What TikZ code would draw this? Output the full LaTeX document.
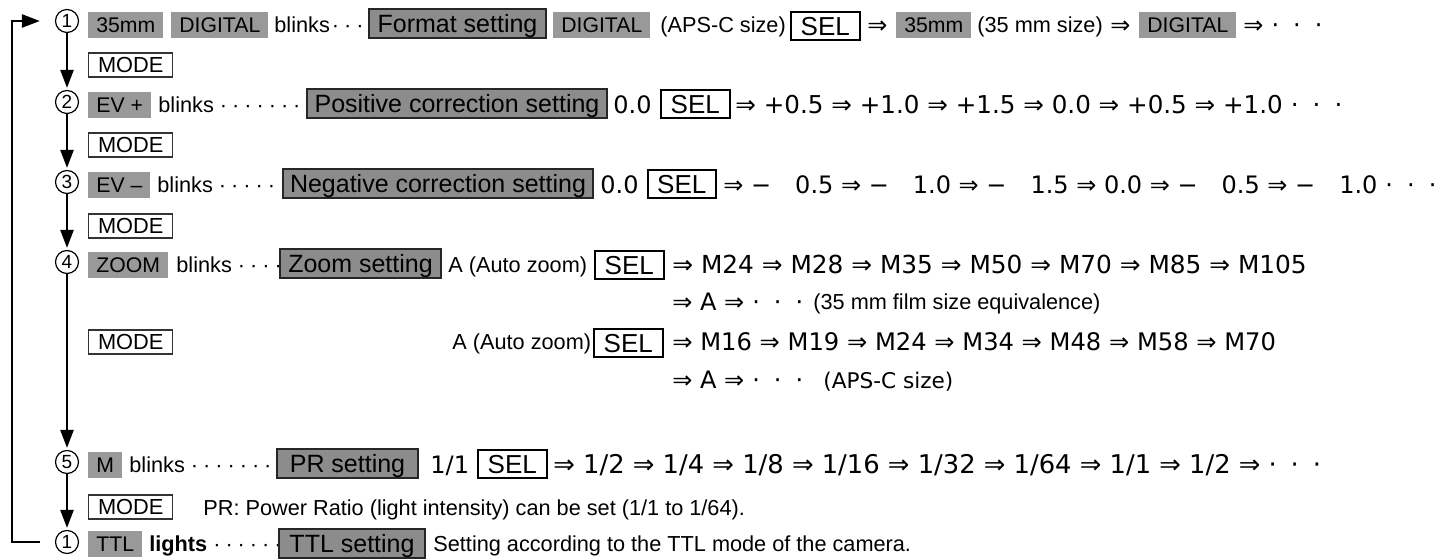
\documentclass[tikz,border=0pt]{standalone}
\usepackage{fontspec}
\setmainfont{Liberation Sans}
\newfontfamily\numfont{DejaVu Sans}
\usetikzlibrary{arrows.meta}
\tikzset{txt/.style={anchor=west, inner sep=0pt, font=\fontsize{10.85}{12}\selectfont, text height=7.8pt, text depth=0pt}}
\tikzset{num/.style={anchor=west, inner sep=0pt, font=\numfont\fontsize{12}{14}\selectfont, text height=8.7pt, text depth=0pt}}
\tikzset{graybox/.style={anchor=west, fill=black!40, inner xsep=4pt, inner ysep=0pt, minimum height=13pt, font=\fontsize{10.6}{12}\selectfont, text height=7.6pt, text depth=0pt}}
\tikzset{setbox/.style={anchor=west, draw=black!85, line width=1pt, fill=black!45, inner xsep=2pt, inner ysep=0pt, minimum height=14.5pt, font=\fontsize{12.5}{14}\selectfont, text height=9pt, text depth=0pt}}
\tikzset{selbox/.style={anchor=west, draw, line width=0.8pt, inner sep=0pt, minimum width=34.5pt, minimum height=14pt, font=\fontsize{13}{14}\selectfont, text height=9.3pt, text depth=0pt}}
\tikzset{modebox/.style={anchor=west, draw=black!80, line width=0.7pt, inner sep=0pt, minimum width=42pt, minimum height=12pt, font=\fontsize{10.9}{12}\selectfont, text height=7.8pt, text depth=0pt}}
\tikzset{stepno/.style={circle, draw, line width=0.6pt, minimum size=11.5pt, inner sep=0pt, font=\fontsize{9.5}{10}\selectfont}}
\tikzset{flow/.style={line width=1.2pt, -{Triangle[length=9pt,width=6.5pt]}, shorten >=1pt}}
\newcommand{\dotgap}{\kern2.5pt}
\newcommand{\cycdots}{\hspace{4pt}·\hspace{7pt}·\hspace{7pt}·}

\begin{document}
\begin{tikzpicture}[x=0.5pt, y=-0.5pt]
\useasboundingbox (0,0) rectangle (1446,560);

\node[stepno] (c1) at (67,21) {1};
\node[graybox] (r1a) at (88,25) {35mm};
\node[graybox] (r1b) at (171,25) {DIGITAL};
\node[txt] (r1c) at (274,25) {blinks\kern1pt·\dotgap·\dotgap·};
\node[setbox, minimum width=88.5pt] (r1set) at (368,24) {Format setting};
\node[graybox] (r1d) at (553,25) {DIGITAL};
\node[txt] (r1e) at (660,25) {(APS-C size)};
\node[selbox] (r1sel) at (790,26) {SEL};
\node[num] (r1f) at (867,25) {⇒};
\node[graybox] (r1g) at (896,25) {35mm};
\node[txt] (r1h) at (977,25) {(35 mm size)};
\node[num] (r1i) at (1110,25) {⇒};
\node[graybox] (r1j) at (1139,25) {DIGITAL};
\node[num] (r1k) at (1243,25) {⇒\cycdots};

\node[modebox] (mode1) at (88,65) {MODE};

\node[stepno] (c2) at (67,102) {2};
\node[graybox] (r2a) at (88,105) {EV +};
\node[txt] (r2b) at (158,105) {blinks ·\dotgap·\dotgap·\dotgap·\dotgap·\dotgap·\dotgap·\dotgap·};
\node[setbox, minimum width=150pt] (r2set) at (306,104) {Positive correction setting};
\node[num] (r2c) at (613,105) {0.0};
\node[selbox] (r2sel) at (660,104) {SEL};
\node[num, font=\numfont\fontsize{12.3}{14}\selectfont] (r2d) at (735,105) {⇒ +0.5 ⇒ +1.0 ⇒ +1.5 ⇒ 0.0 ⇒ +0.5 ⇒ +1.0\cycdots};

\node[modebox] (mode2) at (88,145) {MODE};

\node[stepno] (c3) at (67,182) {3};
\node[graybox] (r3a) at (88,185) {EV –};
\node[txt] (r3b) at (157,185) {blinks ·\dotgap·\dotgap·\dotgap·\dotgap·\dotgap·};
\node[setbox, minimum width=155pt] (r3set) at (282,184) {Negative correction setting};
\node[num] (r3c) at (600,185) {0.0};
\node[selbox, minimum width=34pt] (r3sel) at (647,184) {SEL};
\node[num] (r3d) at (723,185) {⇒ −\quad 0.5 ⇒ −\quad 1.0 ⇒ −\quad 1.5 ⇒ 0.0 ⇒ −\quad 0.5 ⇒ −\quad 1.0\cycdots};

\node[modebox] (mode3) at (88,226) {MODE};

\node[stepno] (c4) at (67,262) {4};
\node[graybox] (r4a) at (88,265) {ZOOM};
\node[txt] (r4b) at (176,265) {blinks ·\dotgap·\dotgap·\dotgap·};
\node[setbox, minimum width=80.5pt] (r4set) at (279,264) {Zoom setting};
\node[txt] (r4c) at (448,265) {A (Auto zoom)};
\node[selbox] (r4sel) at (594,265) {SEL};
\node[num, font=\numfont\fontsize{12.4}{14}\selectfont] (r4d) at (672,265) {⇒ M24 ⇒ M28 ⇒ M35 ⇒ M50 ⇒ M70 ⇒ M85 ⇒ M105};
\node[num] (r4e) at (672,302) {⇒ A ⇒\cycdots};
\node[txt] (r4f) at (813,302) {(35 mm film size equivalence)};

\node[modebox] (mode4) at (88,342) {MODE};
\node[txt] (r4g) at (452,342) {A (Auto zoom)};
\node[selbox] (r4sel2) at (593,343) {SEL};
\node[num, font=\numfont\fontsize{12.1}{14}\selectfont] (r4h) at (672,342) {⇒ M16 ⇒ M19 ⇒ M24 ⇒ M34 ⇒ M48 ⇒ M58 ⇒ M70};
\node[num] (r4i) at (672,380) {⇒ A ⇒\cycdots};
\node[num, font=\numfont\fontsize{10.8}{12}\selectfont] (r4j) at (823,380) {(APS-C size)};

\node[stepno] (c5) at (67,462) {5};
\node[graybox] (r5a) at (88,465) {M};
\node[txt] (r5b) at (129,465) {blinks ·\dotgap·\dotgap·\dotgap·\dotgap·\dotgap·\dotgap·\dotgap·};
\node[setbox, minimum width=70.5pt] (r5set) at (276,464) {PR setting};
\node[num] (r5c) at (430,465) {1/1};
\node[selbox] (r5sel) at (477,464) {SEL};
\node[num, font=\numfont\fontsize{12.9}{14}\selectfont] (r5d) at (553,465) {⇒ 1/2 ⇒ 1/4 ⇒ 1/8 ⇒ 1/16 ⇒ 1/32 ⇒ 1/64 ⇒ 1/1 ⇒ 1/2 ⇒\cycdots};

\node[modebox] (mode5) at (88,507) {MODE};
\node[txt] (r5e) at (203,508) {PR: Power Ratio (light intensity) can be set (1/1 to 1/64).};

\node[stepno] (c6) at (67,542) {1};
\node[graybox] (r6a) at (88,544) {TTL};
\node[txt] (r6b) at (149,544) {\textbf{lights} ·\dotgap·\dotgap·\dotgap·\dotgap·\dotgap·};
\node[setbox, minimum width=73pt] (r6set) at (278,544) {TTL setting};
\node[txt] (r6c) at (433,544) {Setting according to the TTL mode of the camera.};

\draw[flow] (c1.south) -- (c2.north);
\draw[flow] (c2.south) -- (c3.north);
\draw[flow] (c3.south) -- (c4.north);
\draw[flow] (c4.south) -- (c5.north);
\draw[flow] (c5.south) -- (c6.north);
\coordinate (back) at (12,300);
\draw[flow] ([xshift=-7.5pt]c6.west) -| (back) |- ([xshift=-6.5pt]c1.west);
\end{tikzpicture}
\end{document}
